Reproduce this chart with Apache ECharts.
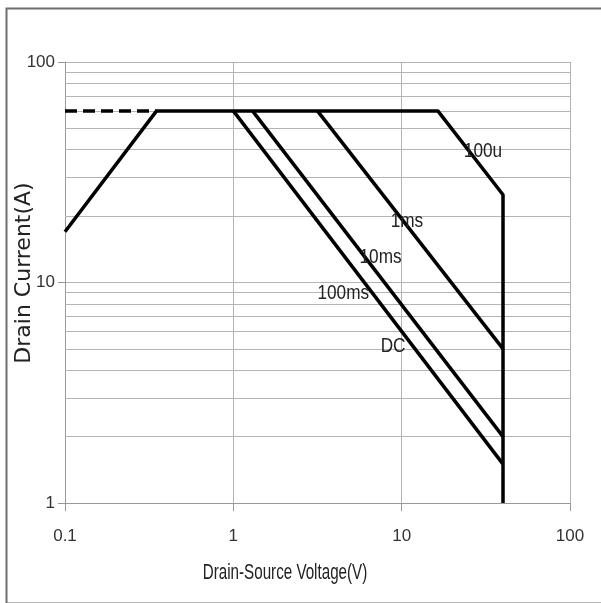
<!DOCTYPE html>
<html>
<head>
<meta charset="utf-8">
<script src="https://cdn.jsdelivr.net/npm/echarts@6/dist/echarts.min.js"></script>
<style>
  html, body { margin: 0; padding: 0; background: #fff; }
  #main { width: 601px; height: 603px; }
</style>
</head>
<body>
<div id="main"></div>
<script>
// SOA curve data (V, A)
var limitDashed = [[0.1, 60], [0.35, 60]];
var envelope100u = [[0.1, 17], [0.35, 60], [16.4, 60], [40, 25], [40, 1]];
var line1ms = [[3.16, 60], [40, 5]];
var line10ms = [[1.3, 60], [40, 2]];
var lineDC = [[1, 60], [40, 1.5]];

// minor horizontal grid values
var minorY = [2, 3, 4, 5, 6, 7, 8, 9, 20, 30, 40, 50, 60, 70, 80, 90];

// curve labels [V, A, text]
var curveLabels = [
  [23.4, 39.1, "100u"],
  [8.6, 19.0, "1ms"],
  [5.62, 13.0, "10ms"],
  [3.16, 8.96, "100ms"],
  [7.5, 5.1, "DC"]
];

var xName = "Drain-Source Voltage(V)";
var yName = "Drain Current(A)";

var font = "'Liberation Sans', Arial, sans-serif";

var chart = echarts.init(document.getElementById("main"));

function blackLine(data, dashed) {
  return {
    type: "line",
    data: data,
    symbol: "none",
    silent: true,
    lineStyle: {
      color: "#000",
      width: 3.5,
      type: dashed ? [12, 6] : "solid"
    },
    z: 5
  };
}

chart.setOption({
  animation: false,
  backgroundColor: "#fff",
  graphic: [
    {
      type: "rect",
      left: 4,
      top: 6,
      shape: { width: 640, height: 595 },
      style: { fill: "none", stroke: "#6e6e6e", lineWidth: 2 },
      silent: true
    },
    {
      // x axis name (narrow look)
      type: "text",
      x: 285,
      y: 573,
      scaleX: 0.69,
      style: {
        text: xName,
        font: "22px " + font,
        fill: "#222",
        align: "center",
        verticalAlign: "middle"
      },
      silent: true
    },
    {
      // y axis name
      type: "text",
      x: 24,
      y: 273,
      rotation: Math.PI / 2,
      style: {
        text: yName,
        font: "22px 'DejaVu Sans', sans-serif",
        fill: "#222",
        align: "center",
        verticalAlign: "middle"
      },
      silent: true
    }
  ],
  grid: {
    left: 65,
    top: 62,
    right: 31,
    bottom: 100,
    containLabel: false,
    outerBoundsMode: "none"
  },
  xAxis: {
    type: "log",
    logBase: 10,
    min: 0.1,
    max: 100,
    axisLine: { show: true, lineStyle: { color: "#999", width: 1 } },
    axisTick: { show: true, length: 8, lineStyle: { color: "#999" } },
    axisLabel: {
      fontFamily: font,
      fontSize: 17,
      color: "#333",
      margin: 25,
      formatter: function (v) { return String(v); }
    },
    splitLine: { show: true, lineStyle: { color: "#b4b4b4", width: 1 } }
  },
  yAxis: {
    type: "log",
    logBase: 10,
    min: 1,
    max: 100,
    axisLine: { show: true, lineStyle: { color: "#999", width: 1 } },
    axisTick: { show: true, length: 7, lineStyle: { color: "#999" } },
    axisLabel: {
      fontFamily: font,
      fontSize: 17,
      color: "#333",
      margin: 10
    },
    splitLine: { show: true, lineStyle: { color: "#b4b4b4", width: 1 } }
  },
  series: [
    {
      type: "line",
      data: [],
      silent: true,
      markLine: {
        silent: true,
        symbol: "none",
        label: { show: false },
        lineStyle: { color: "#b4b4b4", width: 1, type: "solid" },
        data: minorY.map(function (v) { return { yAxis: v }; })
      },
      z: 1
    },
    blackLine(limitDashed, true),
    blackLine(envelope100u, false),
    blackLine(line1ms, false),
    blackLine(line10ms, false),
    blackLine(lineDC, false),
    {
      type: "custom",
      silent: true,
      z: 6,
      data: curveLabels,
      renderItem: function (params, api) {
        var pt = api.coord([api.value(0), api.value(1)]);
        return {
          type: "text",
          x: pt[0],
          y: pt[1],
          scaleX: 0.86,
          style: {
            text: curveLabels[params.dataIndex][2],
            font: "20px " + font,
            fill: "#222",
            align: "left",
            verticalAlign: "middle"
          }
        };
      }
    }
  ]
});
</script>
</body>
</html>
